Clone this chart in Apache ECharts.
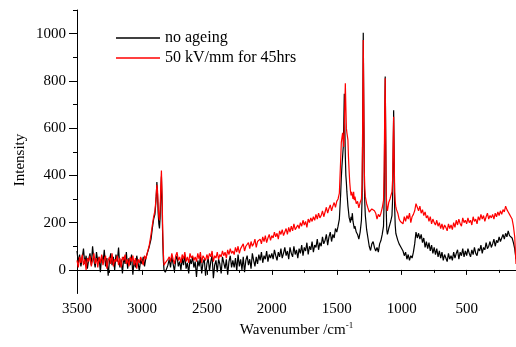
<!DOCTYPE html>
<html>
<head>
<meta charset="utf-8">
<script src="https://cdn.jsdelivr.net/npm/echarts@6/dist/echarts.min.js"></script>
<style>
html,body{margin:0;padding:0;background:#fff;}
#chart{width:516px;height:347px;}
</style>
</head>
<body>
<div id="chart"></div>
<script>
// Wavenumber positions (cm^-1), shared by both spectra
const wavenumber = [
  3500,3490,3480,3470,3460,3450,3440,3430,3420,3410,
  3400,3390,3380,3370,3360,3350,3340,3330,3320,3310,
  3300,3290,3280,3270,3260,3250,3240,3230,3220,3210,
  3200,3190,3180,3170,3160,3150,3140,3130,3120,3110,
  3100,3090,3080,3070,3060,3050,3040,3030,3020,3010,
  3000,2990,2980,2970,
  2960,2945,2930,2920,2910,2900,2895,2890,2885,2880,2875,2870,2865,2860,2855,2850,2845,2840,2835,2830,2820,2800,
  2790,2780,2770,2760,2750,2740,2730,2720,2710,2700,
  2690,2680,2670,2660,2650,2640,2630,2620,2610,2600,
  2590,2580,2570,2560,2550,2540,2530,2520,2510,2500,
  2490,2480,2470,2460,2450,2440,2430,2420,2410,2400,
  2390,2380,2370,2360,2350,2340,2330,2320,2310,2300,
  2290,2280,2270,2260,2250,2240,2230,2220,2210,2200,
  2190,2180,2170,2160,2150,2140,2130,2120,2110,2100,
  2090,2080,2070,2060,2050,2040,2030,2020,2010,2000,
  1990,1980,1970,1960,1950,1940,1930,1920,1910,1900,
  1890,1880,1870,1860,1850,1840,1830,1820,1810,1800,
  1790,1780,1770,1760,1750,1740,1730,1720,1710,1700,
  1690,1680,1670,1660,1650,1640,1630,1620,1610,1600,
  1590,1580,1570,1560,1550,1540,1530,1520,1510,1500,
  1490,1480,1470,1465,1460,1455,1450,1446,1442,1438,
  1434,1430,1426,1422,1418,1414,1410,1405,1400,1395,
  1390,1385,1380,1375,1370,1365,1360,1350,1340,1330,
  1320,1310,1305,1300,1296,1292,1288,1284,1280,1270,
  1260,1250,1240,1230,1220,1210,1200,1190,1180,1170,
  1160,1150,1140,1135,1131,1127,1123,1119,1115,1110,
  1100,1090,1083,1075,1070,1066,1062,1058,1054,1050,
  1045,1040,1030,1020,1010,
  1000,990,980,970,960,950,940,930,920,910,
  900,890,880,870,860,850,840,830,820,810,
  800,790,780,770,760,750,740,730,720,710,
  700,690,680,670,660,650,640,630,620,610,
  600,590,580,570,560,550,540,530,520,510,
  500,490,480,470,460,450,440,430,420,410,
  400,390,380,370,360,350,340,330,320,310,
  300,290,280,270,260,250,240,230,220,210,
  200,190,180,170,160,150,140,130,120
];

// "no ageing" intensity
const noAgeing = [
  80,30,65,15,50,90,25,60,5,45,
  70,20,100,40,10,75,35,55,-10,60,
  30,85,15,50,-25,40,70,20,55,0,
  65,35,95,10,45,-15,55,25,75,5,
  50,20,65,-20,40,10,60,30,-5,45,
  25,55,15,50,
  55,95,130,175,215,235,270,310,372,320,240,195,175,220,320,395,280,130,40,0,-10,20,
  45,10,55,25,-5,40,60,15,35,0,
  50,20,65,5,30,-15,45,25,55,10,
  35,-30,40,15,55,-15,30,45,-25,25,
  50,-5,35,60,-35,20,40,-10,45,25,
  -15,55,30,5,45,-20,35,60,10,40,
  10,50,-5,65,15,45,0,55,-10,40,
  60,20,45,5,70,40,15,55,25,65,
  40,75,30,60,45,80,35,65,50,70,
  45,85,60,40,75,55,90,50,70,95,
  60,80,45,95,70,55,100,65,85,50,
  90,70,105,60,95,80,115,65,100,85,
  120,75,105,95,130,85,115,100,140,110,
  125,150,105,140,160,120,150,135,175,160,
  185,215,320,390,440,480,520,620,745,600,
  480,400,370,330,300,270,250,222,215,200,
  225,210,240,205,200,175,185,160,150,130,
  160,210,300,600,1004,700,380,280,230,170,
  135,100,82,110,120,95,80,95,75,110,
  124,150,185,300,600,818,560,250,170,150,
  175,195,209,230,300,480,676,480,260,190,
  154,150,125,110,100,
  105,80,60,75,45,65,40,60,50,75,
  110,160,135,155,130,150,115,135,95,120,
  90,115,80,105,70,95,65,90,55,80,
  50,75,40,65,50,35,70,45,60,40,
  75,50,70,85,45,75,60,90,55,80,
  60,90,70,55,85,65,95,70,60,90,
  80,105,70,95,85,115,90,100,120,95,
  110,130,100,125,115,140,120,135,150,130,
  155,140,165,145,150,135,115,90,45
];

// "50 kV/mm for 45hrs" intensity
const aged = [
  40,10,55,30,65,20,45,0,50,35,
  60,15,40,70,25,50,10,55,30,65,
  20,45,60,5,40,55,25,70,15,45,
  35,60,20,50,10,55,40,65,25,45,
  15,55,35,60,20,50,5,45,30,55,
  40,20,60,45,
  70,100,150,190,225,250,280,320,360,335,270,225,210,260,350,421,320,170,70,20,30,45,
  55,35,70,45,25,60,75,40,55,30,
  65,45,75,35,55,30,70,50,60,40,
  55,35,70,45,75,30,60,50,40,65,
  45,70,55,80,35,60,50,75,45,65,
  55,80,60,75,50,85,65,90,70,80,
  65,95,75,100,70,90,85,110,80,100,
  95,115,90,120,100,110,130,95,120,115,
  130,110,140,120,145,115,135,150,125,145,
  135,160,140,155,130,165,150,170,145,160,
  175,150,180,160,185,165,195,170,180,190,
  175,200,185,210,190,205,180,215,200,220,
  205,225,210,235,215,240,220,230,250,225,
  245,265,240,260,275,250,270,285,265,290,
  300,325,465,540,560,580,545,520,600,700,
  790,690,600,580,565,549,480,421,370,337,
  315,330,323,300,330,295,310,280,290,262,
  285,300,360,650,973,700,420,345,310,280,
  262,245,237,258,262,250,240,215,235,225,
  240,262,294,420,650,811,540,320,270,250,
  285,300,315,330,380,530,648,470,330,290,
  265,255,240,215,205,
  210,195,225,205,230,215,240,200,225,235,
  250,280,265,250,270,240,255,230,245,220,
  230,205,225,195,215,200,190,210,185,200,
  175,195,170,190,180,165,195,175,190,170,
  200,180,210,190,215,195,185,220,200,210,
  195,220,200,210,190,225,205,215,195,225,
  210,235,215,230,205,225,240,215,230,220,
  235,215,240,225,245,230,250,235,255,245,
  270,255,245,235,225,215,185,140,25
];

const xTickLabels = [3500,3000,2500,2000,1500,1000,500];
const xMinorTicks = [3250,2750,2250,1750,1250,750,250];
const yTickLabels = [0,200,400,600,800,1000];
const yMinorTicks = [100,300,500,700,900,1100];

const FONT = 'Liberation Serif';
const chart = echarts.init(document.getElementById('chart'), null, {renderer:'canvas'});

const xBase = {type:'value', inverse:true, min:120, max:3500, position:'bottom', splitLine:{show:false}};
const yBase = {type:'value', min:-100, max:1100, interval:100, position:'left', splitLine:{show:false}};
const plain = v => String(v);

chart.setOption({
  animation:false,
  backgroundColor:'#fff',
  textStyle:{fontFamily:FONT},
  grid:{left:77, right:0, top:10, bottom:53.5, containLabel:false},
  legend:{
    orient:'vertical', left:111, top:25, itemWidth:44, itemHeight:1.5, itemGap:4,
    icon:'rect',
    textStyle:{fontFamily:FONT, fontSize:16, color:'#000', lineHeight:15},
    data:['no ageing','50 kV/mm for 45hrs']
  },
  xAxis:[
    Object.assign({}, xBase, {
      axisLine:{show:true, lineStyle:{color:'#000', width:1}},
      axisTick:{show:true, customValues:xTickLabels, length:5, lineStyle:{color:'#000'}},
      axisLabel:{customValues:xTickLabels, formatter:plain, fontFamily:FONT, fontSize:15, color:'#000', margin:8},
      name:'Wavenumber /cm{sup|-1}', nameLocation:'middle', nameGap:18,
      nameTextStyle:{fontFamily:FONT, fontSize:15, color:'#000',
        rich:{sup:{fontFamily:FONT, fontSize:9, color:'#000', verticalAlign:'top', padding:[0,0,8,0]}}}
    }),
    Object.assign({}, xBase, {
      axisLine:{show:false},
      axisTick:{show:true, customValues:xMinorTicks, length:3, lineStyle:{color:'#000'}},
      axisLabel:{show:false}
    })
  ],
  yAxis:[
    Object.assign({}, yBase, {
      axisLine:{show:true, lineStyle:{color:'#000', width:1}},
      axisTick:{show:true, customValues:yTickLabels, length:8, lineStyle:{color:'#000'}},
      axisLabel:{customValues:yTickLabels, formatter:plain, fontFamily:FONT, fontSize:15, color:'#000', margin:11}
    }),
    Object.assign({}, yBase, {
      axisLine:{show:false},
      axisTick:{show:true, customValues:yMinorTicks, length:4, lineStyle:{color:'#000'}},
      axisLabel:{show:false}
    })
  ],
  graphic:[{
    type:'text', x:20, y:160, rotation:Math.PI/2,
    style:{text:'Intensity', font:'15px "Liberation Serif"', fill:'#000', textAlign:'center', textVerticalAlign:'middle'}
  }],
  series:[
    {name:'no ageing', type:'line', xAxisIndex:0, yAxisIndex:0, symbol:'none',
     lineStyle:{color:'#000', width:1.2}, itemStyle:{color:'#000'},
     data:wavenumber.map((w,i)=>[w, noAgeing[i]])},
    {name:'50 kV/mm for 45hrs', type:'line', xAxisIndex:0, yAxisIndex:0, symbol:'none',
     lineStyle:{color:'#ff0000', width:1.2}, itemStyle:{color:'#ff0000'},
     data:wavenumber.map((w,i)=>[w, aged[i]])}
  ]
});
</script>
</body>
</html>
